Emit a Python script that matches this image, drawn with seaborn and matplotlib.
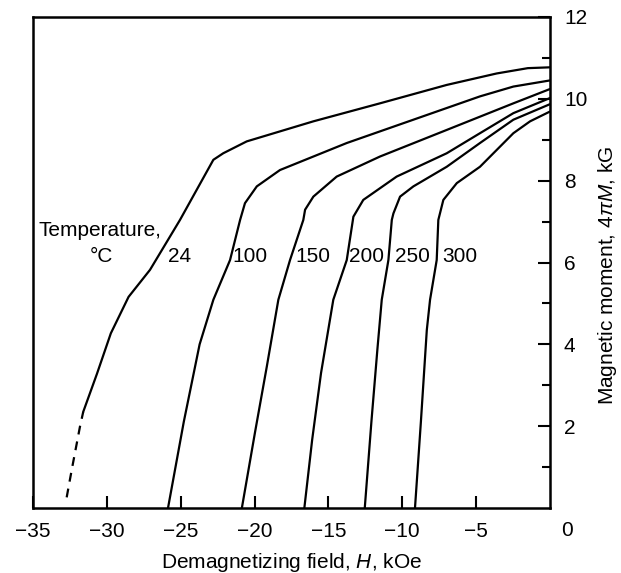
import matplotlib
matplotlib.use("Agg")
import matplotlib.pyplot as plt
import matplotlib.ticker as mticker
import numpy as np
import pandas as pd
import seaborn as sns

# ---- data ----
temps = ["24", "100", "150", "200", "250", "300"]

h_24 = [-31.6, -30.67, -29.73, -28.53, -27.08, -25.05, -22.79, -22.12, -20.53, -16.02, -11.51, -6.99, -3.61, -1.5, 0.0]
m_24 = [2.35, 3.28, 4.27, 5.16, 5.82, 7.04, 8.51, 8.67, 8.96, 9.45, 9.89, 10.34, 10.62, 10.75, 10.77]
h_24_dash = [-32.72, -32.38, -31.82, -31.6]
m_24_dash = [0.26, 0.93, 1.99, 2.35]

h_100 = [-25.86, -24.79, -23.72, -22.79, -21.66, -20.98, -20.65, -19.85, -18.28, -13.76, -9.25, -4.74, -2.48, 0.0]
m_100 = [0.0, 2.11, 4.0, 5.09, 6.06, 7.04, 7.45, 7.86, 8.26, 8.92, 9.49, 10.06, 10.3, 10.45]

h_150 = [-20.86, -19.97, -19.17, -18.39, -17.6, -16.7, -16.58, -16.02, -14.44, -11.51, -6.99, -2.48, 0.0]
m_150 = [0.0, 1.85, 3.46, 5.09, 6.06, 7.04, 7.29, 7.61, 8.1, 8.59, 9.24, 9.89, 10.24]

h_200 = [-16.63, -16.1, -15.5, -14.67, -13.76, -13.31, -12.64, -10.38, -6.99, -4.74, -2.48, 0.0]
m_200 = [0.0, 1.67, 3.3, 5.09, 6.06, 7.12, 7.53, 8.1, 8.67, 9.16, 9.65, 10.02]

h_250 = [-12.54, -12.09, -11.68, -11.39, -10.94, -10.71, -10.6, -10.15, -9.25, -6.99, -4.74, -2.48, 0.0]
m_250 = [0.0, 2.11, 3.9, 5.09, 6.06, 7.04, 7.2, 7.61, 7.86, 8.34, 8.92, 9.49, 9.87]

h_300 = [-9.14, -8.74, -8.34, -8.12, -7.67, -7.56, -7.22, -6.31, -4.74, -2.48, -1.35, 0.0]
m_300 = [0.0, 2.11, 4.35, 5.09, 6.06, 7.04, 7.53, 7.94, 8.34, 9.16, 9.45, 9.69]

label_h = [-25.1, -20.3, -16.05, -12.4, -9.3, -6.08]
label_m = 6.15
title_m = 6.77

x_ticks = [-35, -30, -25, -20, -15, -10, -5]
x_tick_labels = ["\u221235", "\u221230", "\u221225", "\u221220", "\u221215", "\u221210", "\u22125"]
y_ticks = [2, 4, 6, 8, 10, 12]

# ---- style ----
sns.set_style("ticks")
plt.rcParams["font.family"] = ["Liberation Sans", "DejaVu Sans"]
plt.rcParams["mathtext.fontset"] = "custom"
plt.rcParams["mathtext.rm"] = "Liberation Sans"
plt.rcParams["mathtext.it"] = "Liberation Sans:italic"
for k in ["text.color", "axes.labelcolor", "xtick.color", "ytick.color", "axes.edgecolor"]:
    plt.rcParams[k] = "black"
FS = 15

frames = []
for t, h, m in zip(temps, [h_24, h_100, h_150, h_200, h_250, h_300],
                   [m_24, m_100, m_150, m_200, m_250, m_300]):
    frames.append(pd.DataFrame({"H": h, "M": m, "T": t}))
df = pd.concat(frames, ignore_index=True)
df_dash = pd.DataFrame({"H": h_24_dash, "M": m_24_dash, "T": "24"})

fig = plt.figure(figsize=(6.21, 5.73), dpi=100)
ax = fig.add_axes([33 / 621, 1 - 508 / 573, (550 - 33) / 621, (508 - 17) / 573])

sns.lineplot(data=df, x="H", y="M", units="T", estimator=None, sort=False,
             color="black", linewidth=1.6, ax=ax)
sns.lineplot(data=df_dash, x="H", y="M", estimator=None, sort=False,
             color="black", linewidth=1.6, dashes=False, ax=ax)
ax.lines[-1].set_dashes([4, 3.2])
for ln in ax.lines:
    ln.set_solid_joinstyle("round")

ax.set_xlim(-35, 0)
ax.set_ylim(0, 12)

for s in ax.spines.values():
    s.set_visible(True)
    s.set_linewidth(1.8)
    s.set_color("black")

ax.set_xticks(x_ticks)
ax.set_xticklabels(x_tick_labels)
ax.yaxis.tick_right()
ax.set_yticks(y_ticks)
ax.set_yticklabels([str(v) for v in y_ticks])
ax.yaxis.set_minor_locator(mticker.FixedLocator([1, 3, 5, 7, 9, 11]))
ax.tick_params(axis="both", which="major", direction="in", length=9, width=1.5,
               labelsize=FS, pad=10, colors="black")
ax.tick_params(axis="y", which="minor", direction="in", length=5.5, width=1.5,
               right=True, left=False)
ax.tick_params(axis="y", which="both", left=False, right=True, labelleft=False, labelright=True)

ax.annotate("0", xy=(0, 0), xycoords="data", xytext=(12, -16), textcoords="offset points",
            ha="center", va="center", fontsize=FS)

ax.set_xlabel("Demagnetizing field, $\\it{H}$, kOe", fontsize=FS, labelpad=7)
ax.yaxis.set_label_position("right")
ax.set_ylabel("Magnetic moment, 4$\\it{\u03c0M}$, kG", fontsize=FS)
ax.yaxis.set_label_coords(1.089, 0.474)

ax.text(-26.3, title_m, "Temperature,", ha="right", va="center", fontsize=FS)
ax.text(-30.4, label_m, "\u00b0C", ha="center", va="center", fontsize=FS)
for t, hx in zip(temps, label_h):
    ax.text(hx, label_m, t, ha="center", va="center", fontsize=FS)

fig.savefig("out.png", dpi=100)
